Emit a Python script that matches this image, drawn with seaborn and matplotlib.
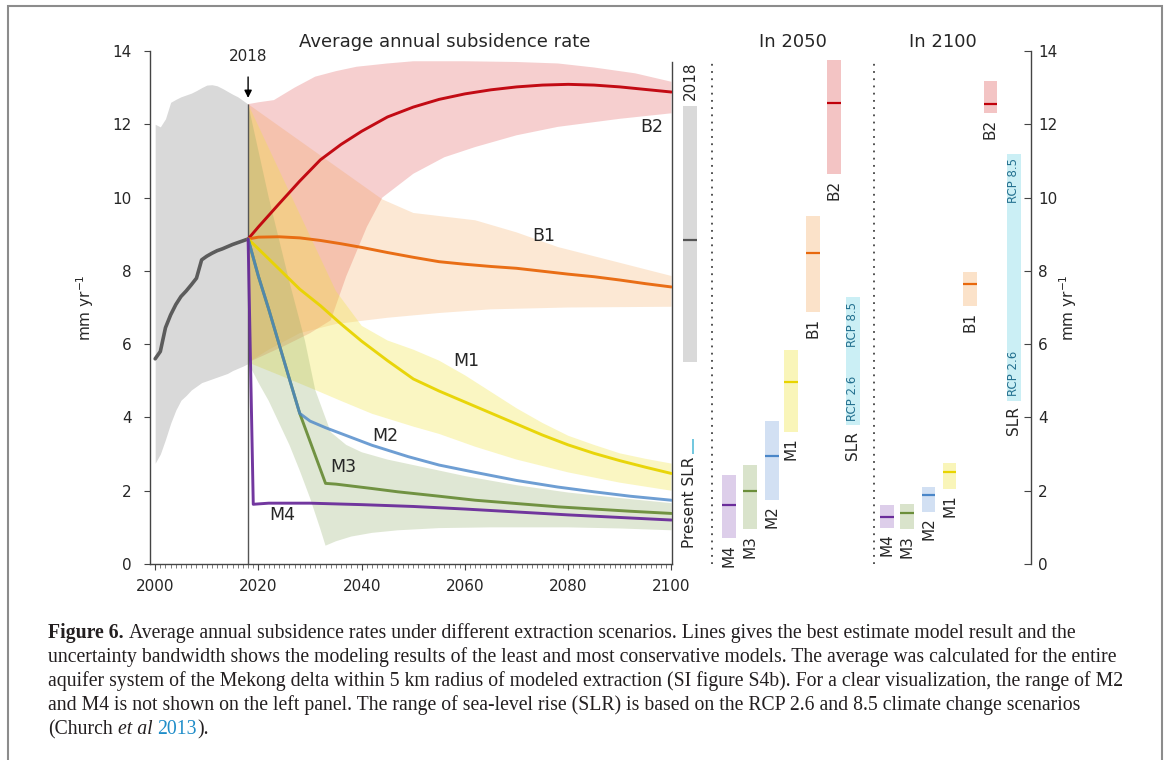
import numpy as np
import pandas as pd
import matplotlib
matplotlib.use("Agg")
import matplotlib.pyplot as plt
import seaborn as sns
from matplotlib.patches import Rectangle

# ---------------- data ----------------
hist_years = [2000, 2001, 2002, 2003, 2004, 2005, 2006, 2007, 2008, 2009,
              2010, 2011, 2012, 2013, 2014, 2015, 2016, 2017, 2018]
hist_mid = [5.6, 5.8, 6.45, 6.8, 7.08, 7.3, 7.45, 7.62, 7.8, 8.3,
            8.4, 8.48, 8.55, 8.6, 8.66, 8.72, 8.77, 8.82, 8.87]
hist_lo = [2.75, 3.0, 3.4, 3.84, 4.2, 4.47, 4.6, 4.75, 4.85, 4.95,
           5.0, 5.05, 5.1, 5.15, 5.2, 5.28, 5.34, 5.4, 5.47]
hist_hi = [12.0, 11.93, 12.15, 12.6, 12.68, 12.75, 12.8, 12.85, 12.92, 13.0,
           13.07, 13.08, 13.05, 12.98, 12.9, 12.82, 12.75, 12.65, 12.55]

b2_years = [2018, 2020, 2024, 2028, 2032, 2036, 2040, 2045, 2050, 2055, 2060,
            2065, 2070, 2075, 2080, 2085, 2090, 2095, 2100]
b2_mid = [8.87, 9.2, 9.83, 10.45, 11.03, 11.45, 11.81, 12.2, 12.47, 12.68, 12.83,
          12.94, 13.02, 13.07, 13.09, 13.07, 13.02, 12.95, 12.88]
b2_hi_years = [2018, 2020, 2023, 2027, 2031, 2035, 2039, 2045, 2050, 2060, 2070, 2078, 2085, 2093, 2100]
b2_hi = [12.55, 12.6, 12.66, 13.0, 13.3, 13.45, 13.57, 13.66, 13.72, 13.72, 13.7, 13.66, 13.55, 13.39, 13.16]
b2_lo_years = [2018, 2025, 2030, 2034, 2037, 2041, 2044, 2050, 2056, 2062, 2070, 2078, 2090, 2100]
b2_lo = [5.5, 5.95, 6.3, 6.65, 7.85, 9.2, 10.0, 10.65, 11.1, 11.38, 11.7, 11.93, 12.15, 12.3]

b1_years = [2018, 2020, 2024, 2028, 2032, 2036, 2040, 2045, 2050, 2055, 2060,
            2065, 2070, 2075, 2080, 2085, 2090, 2095, 2100]
b1_mid = [8.87, 8.92, 8.93, 8.9, 8.83, 8.74, 8.64, 8.5, 8.37, 8.25, 8.18,
          8.12, 8.07, 7.99, 7.91, 7.84, 7.75, 7.65, 7.56]
b1_hi_years = [2018, 2044, 2050, 2056, 2062, 2070, 2078, 2090, 2100]
b1_hi = [12.55, 9.95, 9.58, 9.48, 9.38, 9.05, 8.65, 8.22, 7.86]
b1_lo_years = [2018, 2022, 2028, 2035, 2045, 2055, 2065, 2080, 2100]
b1_lo = [5.5, 5.85, 6.3, 6.55, 6.72, 6.85, 6.95, 7.0, 7.02]

m1_years = [2018, 2020, 2024, 2028, 2032, 2036, 2040, 2045, 2050, 2055, 2060,
            2065, 2070, 2075, 2080, 2085, 2090, 2095, 2100]
m1_mid = [8.87, 8.6, 8.05, 7.5, 7.05, 6.55, 6.08, 5.55, 5.05, 4.72, 4.42,
          4.12, 3.82, 3.52, 3.25, 3.02, 2.82, 2.64, 2.47]
m1_hi_years = [2018, 2035, 2040, 2045, 2050, 2055, 2060, 2065, 2070, 2075, 2080, 2085, 2090, 2095, 2100]
m1_hi = [12.55, 7.45, 6.5, 6.1, 5.85, 5.55, 5.15, 4.7, 4.25, 3.85, 3.5, 3.25, 3.02, 2.87, 2.74]
m1_lo_years = [2018, 2025, 2031, 2036, 2042, 2050, 2055, 2062, 2070, 2080, 2090, 2100]
m1_lo = [5.5, 5.1, 4.75, 4.45, 4.1, 3.75, 3.55, 3.2, 2.85, 2.5, 2.22, 2.0]

m2_years = [2018, 2020, 2022, 2024, 2026, 2028, 2030, 2033, 2036, 2042, 2049,
            2055, 2062, 2070, 2078, 2085, 2092, 2100]
m2_mid = [8.87, 7.85, 6.95, 6.0, 5.05, 4.11, 3.9, 3.72, 3.56, 3.24, 2.93,
          2.7, 2.5, 2.28, 2.1, 1.97, 1.85, 1.74]

m3_years = [2018, 2020, 2022, 2024, 2026, 2028, 2033, 2035, 2042, 2047, 2055,
            2062, 2070, 2078, 2085, 2092, 2100]
m3_mid = [8.87, 7.85, 6.95, 6.0, 5.05, 4.11, 2.2, 2.18, 2.06, 1.97, 1.85,
          1.74, 1.65, 1.56, 1.5, 1.44, 1.38]
m3_hi_years = [2018, 2022, 2026, 2029, 2031, 2034, 2037, 2040, 2045, 2050, 2060, 2070, 2080, 2090, 2100]
m3_hi = [12.55, 10.0, 7.7, 6.1, 4.75, 3.6, 3.25, 3.05, 2.85, 2.7, 2.4, 2.15, 1.95, 1.8, 1.66]
m3_lo_years = [2018, 2020, 2022, 2024, 2026, 2028, 2030, 2032, 2033, 2035, 2038, 2042, 2047, 2055, 2065, 2080, 2090, 2100]
m3_lo = [5.5, 4.95, 4.45, 3.85, 3.25, 2.55, 1.8, 0.95, 0.5, 0.62, 0.75, 0.85, 0.92, 0.98, 1.0, 1.0, 0.97, 0.92]

m4_years = [2018, 2019, 2022, 2030, 2040, 2050, 2060, 2070, 2080, 2090, 2100]
m4_mid = [8.87, 1.63, 1.66, 1.66, 1.62, 1.57, 1.5, 1.42, 1.34, 1.27, 1.2]

# right panel: ranges in 2050 and 2100
bar_names = ["M4", "M3", "M2", "M1", "B1", "B2"]
lo_2050 = [0.7, 0.95, 1.75, 3.6, 6.87, 10.63]
hi_2050 = [2.43, 2.7, 3.9, 5.85, 9.5, 13.75]
med_2050 = [1.6, 2.0, 2.95, 4.98, 8.5, 12.57]
lo_2100 = [0.98, 0.95, 1.43, 2.05, 7.03, 12.3]
hi_2100 = [1.6, 1.65, 2.1, 2.75, 7.97, 13.18]
med_2100 = [1.28, 1.38, 1.88, 2.52, 7.65, 12.55]
range_2018 = [5.5, 12.5]
med_2018 = 8.85
present_slr = [3.0, 3.42]
slr_2050 = [3.78, 7.28]
slr_2100 = [4.46, 11.2]

caption_lines = [
    [("Figure 6.", "bold", None), ("Average annual subsidence rates under different extraction scenarios. Lines gives the best estimate model result and the", "normal", None)],
    [("uncertainty bandwidth shows the modeling results of the least and most conservative models. The average was calculated for the entire", "normal", None)],
    [("aquifer system of the Mekong delta within 5 km radius of modeled extraction (SI figure S4b). For a clear visualization, the range of M2", "normal", None)],
    [("and M4 is not shown on the left panel. The range of sea-level rise (SLR) is based on the RCP 2.6 and 8.5 climate change scenarios", "normal", None)],
    [("(Church", "normal", None), ("et al", "italic", None), ("2013", "normal", "#1f8dc9"), (").", "nospace", None)],
]

# ---------------- style ----------------
line_col = {"hist": "#555555", "B2": "#c0000a", "B1": "#e8680c", "M1": "#e8d400",
            "M2": "#4a86c8", "M3": "#6b8e3a", "M4": "#6a2c9a"}
line_alpha = {"hist": 0.95, "B2": 0.95, "B1": 0.95, "M1": 0.95, "M3": 0.95, "M2": 0.8, "M4": 0.95}
band_col = {"B2": ("#d62728", 0.22), "B1": ("#f28e2b", 0.2), "M1": ("#f0e442", 0.32),
            "M3": ("#8aa860", 0.27), "M2": ("#6b9bd8", 0.25), "M4": ("#9a6cc0", 0.28)}

sns.set_theme(style="ticks")
plt.rcParams["font.family"] = ["DejaVu Sans"]
plt.rcParams["axes.edgecolor"] = "#444444"
plt.rcParams["axes.linewidth"] = 1.0

W, H = 1168, 760
fig = plt.figure(figsize=(W / 100, H / 100), dpi=100)
fig.patch.set_facecolor("white")

def fx(px):
    return px / W

def fy(py):
    return 1 - py / H

ax1 = fig.add_axes([fx(150), fy(564), fx(672) - fx(150), fy(51) - fy(564)])
ax2 = fig.add_axes([fx(672), fy(564), fx(1031) - fx(672), fy(51) - fy(564)])
ax2.set_facecolor("none")

# ---------------- left panel ----------------
ax1.fill_between(hist_years, hist_lo, hist_hi, color="#d9d9d9", lw=0, zorder=1)

def band(ax, hy, hv, ly, lv, key):
    c, a = band_col[key]
    xs = list(hy) + list(ly)[::-1]
    ys = list(hv) + list(lv)[::-1]
    ax.fill(xs, ys, color=c, alpha=a, lw=0, zorder=2)

band(ax1, b2_hi_years, b2_hi, b2_lo_years, b2_lo, "B2")
band(ax1, b1_hi_years, b1_hi, b1_lo_years, b1_lo, "B1")
band(ax1, m1_hi_years, m1_hi, m1_lo_years, m1_lo, "M1")
band(ax1, m3_hi_years, m3_hi, m3_lo_years, m3_lo, "M3")

ax1.vlines(2018, 0, hist_hi[-1], color="#555555", lw=1.0, zorder=3)

series = [("hist", hist_years, hist_mid), ("B2", b2_years, b2_mid), ("B1", b1_years, b1_mid),
          ("M1", m1_years, m1_mid), ("M3", m3_years, m3_mid), ("M2", m2_years, m2_mid),
          ("M4", m4_years, m4_mid)]
df = pd.concat([pd.DataFrame({"year": y, "rate": v, "scenario": n}) for n, y, v in series],
               ignore_index=True)
for n, _, _ in series:
    sub = df[df["scenario"] == n]
    sns.lineplot(data=sub, x="year", y="rate", color=line_col[n],
                 linewidth=2.6 if n == "hist" else 2.1, estimator=None, sort=False,
                 legend=False, ax=ax1, zorder=4, alpha=line_alpha[n])

ax1.set_xlim(1999.0, 2100.1)
ax1.set_ylim(0, 14)
ax1.set_xticks(range(2000, 2101, 20))
ax1.set_xticks(range(2000, 2101, 1), minor=True)
ax1.set_yticks(range(0, 15, 2))
ax1.tick_params(axis="x", which="major", length=4, width=0.8, pad=7, labelsize=11, color="#444444")
ax1.tick_params(axis="x", which="minor", length=3, width=0.6, color="#666666")
ax1.tick_params(axis="y", which="major", length=4, width=0.8, pad=9, labelsize=11, color="#444444")
ax1.tick_params(right=False, top=False)
ax1.spines["top"].set_visible(False)
ax1.spines["right"].set_bounds(0, 13.7)
ax1.spines["right"].set_color("#444444")
ax1.set_xlabel("")
ax1.set_ylabel("mm yr$^{-1}$", fontsize=11)
ax1.yaxis.set_label_coords(-0.103, 0.5)

lab_kw = dict(fontsize=12.5, ha="center", va="center", zorder=6)
ax1.text(2096.1, 11.92, "B2", **lab_kw)
ax1.text(2075.2, 8.95, "B1", **lab_kw)
ax1.text(2060.3, 5.53, "M1", **lab_kw)
ax1.text(2044.6, 3.49, "M2", **lab_kw)
ax1.text(2036.4, 2.64, "M3", **lab_kw)
ax1.text(2024.6, 1.33, "M4", **lab_kw)
ax1.annotate("2018", xy=(2018, 12.72), xytext=(2018, 13.85), ha="center", va="center",
             fontsize=11, annotation_clip=False,
             arrowprops=dict(arrowstyle="-|>", color="black", lw=1.0, shrinkA=7, shrinkB=0,
                             mutation_scale=11))

# ---------------- right panel ----------------
pos_2018 = 0.86
pos_present = 1.02
pos_2050 = [2.7, 3.73, 4.76, 5.67, 6.71, 7.71]
pos_slr50 = 8.62
pos_2100 = [10.25, 11.2, 12.22, 13.22, 14.19, 15.17]
pos_slr00 = 16.29
bw = 0.66
rot_kw = dict(rotation=90, ha="center", fontsize=11)

ax2.bar(pos_2018, range_2018[1] - range_2018[0], bottom=range_2018[0], width=bw,
        color="#d9d9d9", lw=0)
ax2.hlines(med_2018, pos_2018 - bw / 2, pos_2018 + bw / 2, color="#555555", lw=1.6)
ax2.text(pos_2018, range_2018[1] + 0.15, "2018", va="bottom", **rot_kw)
ax2.bar(pos_present, present_slr[1] - present_slr[0], bottom=present_slr[0], width=0.1,
        color="#74c8df", lw=0)
ax2.text(pos_2018 - 0.05, 0.45, "Present SLR", va="bottom", **rot_kw)

for pos_list, lo, hi, med in [(pos_2050, lo_2050, hi_2050, med_2050),
                              (pos_2100, lo_2100, hi_2100, med_2100)]:
    for p, n, l, h, m in zip(pos_list, bar_names, lo, hi, med):
        c, a = band_col[n]
        ax2.bar(p, h - l, bottom=l, width=bw, color=c, alpha=min(a + 0.05, 0.4), lw=0)
        ax2.hlines(m, p - bw / 2, p + bw / 2, color=line_col[n], lw=1.6)
        ax2.text(p, l - 0.15, n, va="top", **rot_kw)

for p, (l, h) in [(pos_slr50, slr_2050), (pos_slr00, slr_2100)]:
    ax2.bar(p, h - l, bottom=l, width=bw, color="#cbeff5", lw=0)
    ax2.text(p, h - 0.12, "RCP 8.5", va="top", rotation=90, ha="center", fontsize=8.5,
             color="#23708f")
    ax2.text(p, l + 0.12, "RCP 2.6", va="bottom", rotation=90, ha="center", fontsize=8.5,
             color="#23708f")
    ax2.text(p, l - 0.15, "SLR", va="top", **rot_kw)

ax2.vlines([1.9, 9.62], 0, 13.7, colors="#444444", linestyles=(0, (1, 3)), lw=1.3)
ax2.text(5.76, 14.24, "In 2050", ha="center", va="center", fontsize=13, clip_on=False)
ax2.text(12.9, 14.24, "In 2100", ha="center", va="center", fontsize=13, clip_on=False)

ax2.set_xlim(0, 17.1)
ax2.set_ylim(0, 14)
ax2.set_xticks([])
ax2.set_yticks(range(0, 15, 2))
for s in ["left", "top", "bottom"]:
    ax2.spines[s].set_visible(False)
ax2.yaxis.tick_right()
ax2.tick_params(axis="y", direction="in", length=5, width=0.8, pad=5, labelsize=11,
                color="#444444", left=False, right=True)
ax2.yaxis.set_label_position("right")
ax2.set_ylabel("mm yr$^{-1}$", fontsize=11, rotation=90)
ax2.yaxis.set_label_coords(1.072, 0.5)

fig.text(fx(445), fy(42), "Average annual subsidence rate", ha="center", va="center", fontsize=13)

# ---------------- frame + caption ----------------
fig.add_artist(Rectangle((fx(8), -0.05), fx(1162) - fx(8), fy(6) + 0.05, transform=fig.transFigure,
                         fill=False, edgecolor="#8c8c8c", lw=1.5))

renderer = fig.canvas.get_renderer()
cap_family = ["Liberation Serif", "DejaVu Serif"]
probe = fig.text(0, 0, caption_lines[1][0][0], fontsize=10, family=cap_family)
w10 = probe.get_window_extent(renderer).width
probe.remove()
cap_fs = 10 * (1118 - 48) / w10

def text_w(s, **kw):
    t = fig.text(0, 0, s, fontsize=cap_fs, family=cap_family, **kw)
    w = t.get_window_extent(renderer).width
    t.remove()
    return w

space_w = text_w("x x") - text_w("xx")
baselines = [638, 662, 686, 710, 734]
for line, yb in zip(caption_lines, baselines):
    x = 48
    for i, (s, style, col) in enumerate(line):
        kw = {}
        if style == "bold":
            kw["fontweight"] = "bold"
        if style == "italic":
            kw["fontstyle"] = "italic"
        if i > 0 and style != "nospace":
            x += space_w
        t = fig.text(fx(x), fy(yb), s, fontsize=cap_fs, family=cap_family, ha="left",
                     va="baseline", color=col or "#231f20", **kw)
        x += t.get_window_extent(renderer).width

fig.savefig("out.png", dpi=100, facecolor="white")
